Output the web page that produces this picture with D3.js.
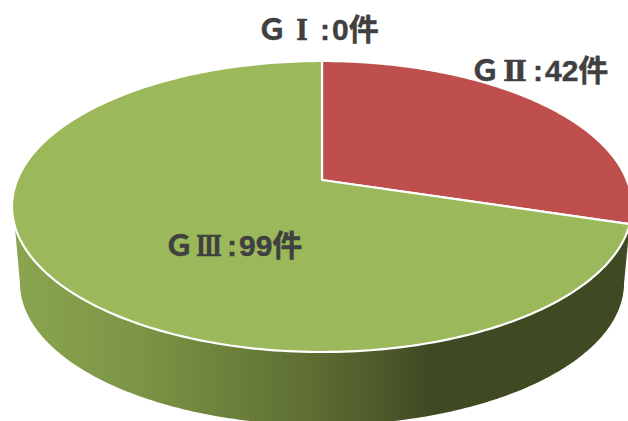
<!DOCTYPE html>
<html>
<head>
<meta charset="utf-8">
<script src="https://cdnjs.cloudflare.com/ajax/libs/d3/7.8.5/d3.min.js"></script>
<style>
  html, body { margin: 0; padding: 0; background: #fff; overflow: hidden; }
  .label { font-family: "Liberation Sans", "Noto Sans CJK JP", sans-serif; font-weight: 700; font-size: 30px; fill: #404040; stroke: #404040; stroke-width: 0.4px; }
  .label .grade { font-family: "Noto Sans CJK JP", sans-serif; }
  .label .numeral { font-family: "DejaVu Serif", serif; font-size: 27px; }
</style>
</head>
<body>
<div id="chart"></div>
<script>
// chart values
var grades = ["Ｇ", "Ｇ", "Ｇ"];
var numerals = ["Ⅰ", "Ⅱ", "Ⅲ"];
var counts = [0, 42, 99];

var sliceColors = ["#4f81bd", "#be4f4c", "#9bb95a"];
var labelX = [257, 470, 164];
var labelY = [40, 81, 256];
var numeralWidth = [12, 24, 26];

var svgWidth = 628;
var svgHeight = 421;

var svg = d3.select("#chart")
  .append("svg")
  .attr("width", svgWidth)
  .attr("height", svgHeight)
  .style("display", "block");

// gradient on the side wall of the pie
var grad = svg.append("defs").append("linearGradient")
  .attr("id", "wall")
  .attr("gradientUnits", "userSpaceOnUse")
  .attr("x1", 13).attr("x2", 628).attr("y1", 0).attr("y2", 0);
[[0, "#8aa54f"], [0.2, "#7c9546"], [0.5, "#5c6c31"], [0.68, "#3f4a23"], [1, "#3f4a23"]]
  .forEach(function(s) {
    grad.append("stop").attr("offset", s[0]).attr("stop-color", s[1]);
  });

// perspective tilt: the far side of the disc is squeezed
var tilt = 0.182;

function project(xScale, yScale) {
  return function(angle, r) {
    var x = r * Math.sin(angle);
    var y = r * Math.cos(angle);
    var w = 1 + tilt * y;
    return [xScale(x / w), yScale(y / w)];
  };
}

var topFace = project(
  d3.scaleLinear().domain([-1, 1]).range([322 - 304.8, 322 + 304.8]),
  d3.scaleLinear().domain([-1, 1]).range([180 + 140.7, 180 - 140.7])
);
var bottomFace = project(
  d3.scaleLinear().domain([-1, 1]).range([322 - 297, 322 + 297]),
  d3.scaleLinear().domain([-1, 1]).range([257 + 137.5, 257 - 137.5])
);

var deg = Math.PI / 180;
function sweep(a0, a1) {
  return d3.range(0, 241).map(function(i) { return a0 + (a1 - a0) * i / 240; });
}

var line = d3.line().curve(d3.curveLinear);

// side wall
var wallPts = sweep(107 * deg, 252 * deg).map(function(a) { return topFace(a, 1); })
  .concat(sweep(259.5 * deg, 100.5 * deg).map(function(a) { return bottomFace(a, 1); }));

svg.append("path")
  .attr("d", line(wallPts) + "Z")
  .attr("fill", "url(#wall)");

// top face slices
var pie = d3.pie().sort(null).value(function(d) { return d; });
var arcs = pie(counts);

svg.selectAll("path.slice")
  .data(arcs)
  .enter()
  .filter(function(d) { return d.value > 0; })
  .append("path")
  .attr("class", "slice")
  .attr("d", function(d) {
    var pts = sweep(d.startAngle, d.endAngle).map(function(a) { return topFace(a, 1); });
    return line([topFace(0, 0)].concat(pts)) + "Z";
  })
  .attr("fill", function(d) { return sliceColors[d.index]; })
  .attr("stroke", "#fff")
  .attr("stroke-width", 2.2)
  .attr("stroke-linejoin", "round");

// labels, the numeral is centred in a 30px box
var labels = svg.selectAll("text.label")
  .data(grades)
  .enter()
  .append("text")
  .attr("class", "label")
  .attr("x", function(d, i) { return labelX[i]; })
  .attr("y", function(d, i) { return labelY[i]; });

labels.append("tspan").attr("class", "grade").text(function(d) { return d; });
labels.append("tspan").attr("class", "numeral")
  .attr("dx", function(d, i) { return (30 - numeralWidth[i]) / 2; })
  .attr("textLength", function(d, i) { return numeralWidth[i]; })
  .attr("lengthAdjust", "spacingAndGlyphs")
  .text(function(d, i) { return numerals[i]; });
labels.append("tspan")
  .attr("dx", function(d, i) { return (30 - numeralWidth[i]) / 2 + 3; })
  .text(":");
labels.append("tspan").attr("dx", 2).text(function(d, i) { return counts[i] + "件"; });
</script>
</body>
</html>
